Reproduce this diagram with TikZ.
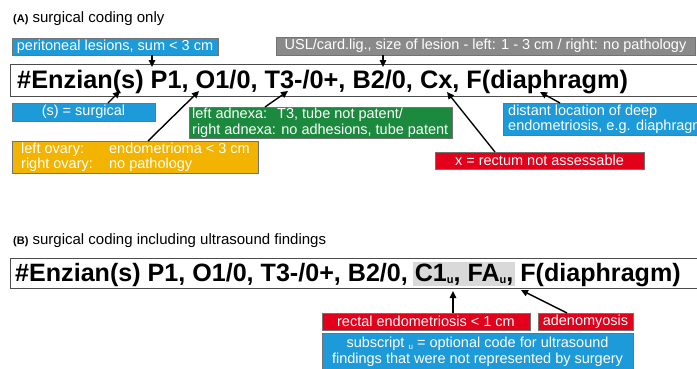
\documentclass[tikz,border=0pt]{standalone}
\usepackage{fontspec}
\setmainfont{Liberation Sans}
\usetikzlibrary{arrows.meta}
\definecolor{cblue}{HTML}{1C9AD9}
\definecolor{cgray}{HTML}{8A8A8A}
\definecolor{cgreen}{HTML}{1B8A3E}
\definecolor{cyellow}{HTML}{F2B400}
\definecolor{cred}{HTML}{E2001A}
\definecolor{hl}{HTML}{D9D9D9}
\newcommand{\subu}{\raisebox{-2.5pt}{\fontsize{11}{11}\selectfont\bfseries u}}
\begin{document}
\begin{tikzpicture}[x=1pt,y=-1pt,
  cbox/.style={fill=#1, draw=black!55, line width=0.6pt, text=white,
    font=\fontsize{14.5}{15.5}\selectfont, inner sep=0pt, anchor=north west, outer sep=0pt},
  btext/.style={text=white, font=\fontsize{14.5}{15.5}\selectfont, inner sep=0pt, align=left, anchor=west},
  mainbox/.style={draw=black!70, line width=1pt, fill=white, anchor=north west, inner sep=0pt},
  code/.style={font=\bfseries\fontsize{25.3}{28}\selectfont, inner sep=0pt, anchor=base west},
  arr/.style={-{Triangle[length=7pt,width=6.5pt]}, line width=1.4pt, black},
  title/.style={font=\fontsize{15}{17}\selectfont, anchor=base west, inner sep=0pt}]
\useasboundingbox (0,0) rectangle (697,368);
\clip (0,0) rectangle (697,368);

% ---------- (A)
\node[title] (tA) at (13,22) {{\bfseries\fontsize{11}{13}\selectfont (A)} surgical coding only};

\node[cbox=cblue, minimum width=206pt, minimum height=17pt] (pl) at (12,38) {peritoneal lesions, sum < 3 cm};
\node[cbox=cgray, minimum width=419pt, minimum height=18pt] (usl) at (276,37) {USL/card.lig., size of lesion - left: 1 - 3 cm / right: no pathology};

\node[mainbox, minimum width=700pt, minimum height=32pt] (mA) at (10,64) {};
\node[code] (cA) at (17,88) {\#Enzian(s) P1, O1/0, T3-/0+, B2/0, Cx, F(diaphragm)};

\node[cbox=cblue, minimum width=143pt, minimum height=18pt] (surg) at (12,103) {(s) = surgical};
\node[cbox=cgreen, minimum width=263pt, minimum height=31pt] (grn) at (189,107) {};
\node[btext] (grnT) at ([xshift=3pt]grn.west)
  {left adnexa:\hspace{10pt}T3, tube not patent/\\right adnexa: no adhesions, tube patent};
\node[cbox=cyellow, minimum width=246pt, minimum height=32pt] (yel) at (12,141) {};
\node[btext] (yelT) at ([xshift=9pt]yel.west)
  {\makebox[88pt][l]{left ovary:}endometrioma < 3 cm\\\makebox[88pt][l]{right ovary:}no pathology};
\node[cbox=cblue, minimum width=260pt, minimum height=32pt] (dist) at (503,103) {};
\node[btext] (distT) at ([xshift=5pt]dist.west) {distant location of deep\\endometriosis, e.g. diaphragm};
\node[cbox=cred, minimum width=209pt, minimum height=17pt] (rx) at (435,152) {x = rectum not assessable};

\coordinate (tP) at (152,67);
\coordinate (tB) at (383,67);
\coordinate (tS) at (120,91);
\coordinate (tO) at (199,91);
\coordinate (tT) at (288,91);
\coordinate (tC) at (447,92);
\coordinate (tF) at (540,92);
\draw[arr] (pl.south -| tP) -- (tP);
\draw[arr] (usl.south -| tB) -- (tB);
\draw[arr] ([xshift=96pt]surg.north west) -- (tS);
\draw[arr] ([xshift=136pt]yel.north west) -- (tO);
\draw[arr] ([xshift=76pt]grn.north west) -- (tT);
\draw[arr] ([xshift=60pt]rx.north west) -- (tC);
\draw[arr] ([xshift=57pt]dist.north west) -- (tF);

% ---------- (B)
\node[title] (tB2) at (13,244) {{\bfseries\fontsize{11}{13}\selectfont (B)} surgical coding including ultrasound findings};

\node[mainbox, minimum width=700pt, minimum height=30pt] (mB) at (10,258) {};
\node[code, font=\bfseries\fontsize{25.1}{28}\selectfont] (cB) at (15,281) {\#Enzian(s) P1, O1/0, T3-/0+, B2/0, \hspace{-1.5pt}{\setlength{\fboxsep}{1.5pt}\colorbox{hl}{C1\subu, FA\subu,}}\hspace{-1.5pt} F(diaphragm)};

\node[cbox=cred, minimum width=208pt, minimum height=17pt] (rr) at (322,313) {rectal endometriosis < 1 cm};
\node[cbox=cred, minimum width=95pt, minimum height=17pt] (ad) at (538,313) {adenomyosis};
\node[cbox=cblue, minimum width=311pt, minimum height=37pt, align=center] (sub) at (322,333)
  {subscript \raisebox{-1.5pt}{\fontsize{8}{8}\selectfont u} = optional code for ultrasound\\findings that were not represented by surgery};

\coordinate (tC1) at (453,291);
\coordinate (tFA) at (521,290);
\draw[arr] (rr.north -| tC1) -- (tC1);
\draw[arr] ([xshift=29pt]ad.north west) -- (tFA);
\end{tikzpicture}
\end{document}
